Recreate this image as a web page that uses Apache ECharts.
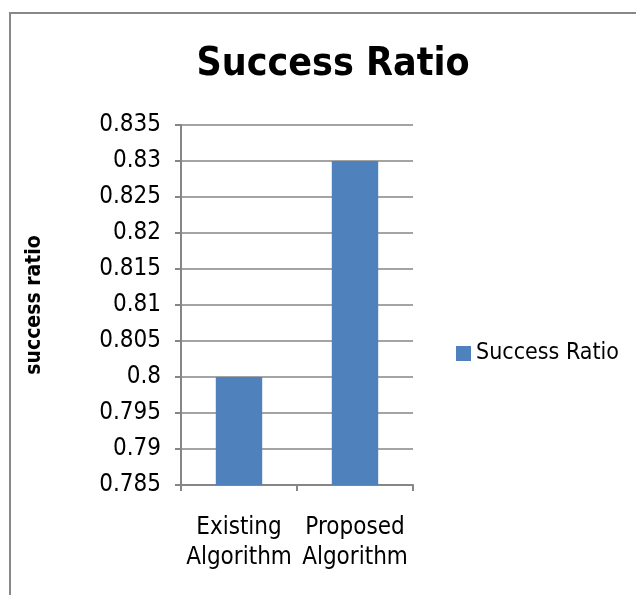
<!DOCTYPE html>
<html><head><meta charset="utf-8">
<script src="https://cdn.jsdelivr.net/npm/echarts@6/dist/echarts.min.js"></script>
<style>html,body{margin:0;padding:0;background:#fff}#c{width:636px;height:595px}</style>
</head><body><div id="c"></div>
<script>
const categories = ['Existing\nAlgorithm', 'Proposed\nAlgorithm'];
const seriesName = 'Success Ratio';
const values = [0.8, 0.83];
const yTicks = {min: 0.785, max: 0.835, interval: 0.005};
const FONT = "'Liberation Sans Narrow', 'DejaVu Sans Condensed', sans-serif";
const chart = echarts.init(document.getElementById('c'));
chart.setOption({
  animation: false,
  graphic: [{type: 'rect', shape: {x: 10, y: 13, width: 700, height: 700}, style: {fill: 'none', stroke: '#888', lineWidth: 2}}],
  title: {text: 'Success Ratio', left: 328, top: 40, textAlign: 'center',
    textStyle: {fontFamily: FONT, fontSize: 39, fontWeight: 'bold', color: '#000'}},
  legend: {data: [seriesName], left: 451, top: 337, itemWidth: 15, itemHeight: 15, itemGap: 7,
    icon: 'rect', textStyle: {fontFamily: FONT, fontSize: 23, color: '#000'}},
  grid: {left: 181, top: 125, width: 232, height: 360, containLabel: false},
  xAxis: {type: 'category', data: categories,
    axisLine: {lineStyle: {color: '#868686', width: 2}},
    axisTick: {show: true, length: 6, lineStyle: {color: '#868686', width: 2}},
    axisLabel: {interval: 0, margin: 28, lineHeight: 30, fontFamily: FONT, fontSize: 24, color: '#000'}},
  yAxis: {type: 'value', min: yTicks.min, max: yTicks.max, interval: yTicks.interval,
    name: 'success ratio', nameLocation: 'middle', nameGap: 136, nameRotate: 90,
    nameTextStyle: {fontFamily: FONT, fontSize: 21, fontWeight: 'bold', color: '#000'},
    axisLine: {show: true, lineStyle: {color: '#868686', width: 2}},
    axisTick: {show: true, length: 6, lineStyle: {color: '#868686', width: 2}},
    splitLine: {lineStyle: {color: '#868686', width: 1.5}},
    axisLabel: {margin: 20, fontFamily: FONT, fontSize: 24, color: '#000',
      formatter: v => String(parseFloat(v.toFixed(3)))}},
  series: [{name: seriesName, type: 'bar', data: values, barWidth: '40%',
    itemStyle: {color: '#4F81BD'}}]
});
</script></body></html>
